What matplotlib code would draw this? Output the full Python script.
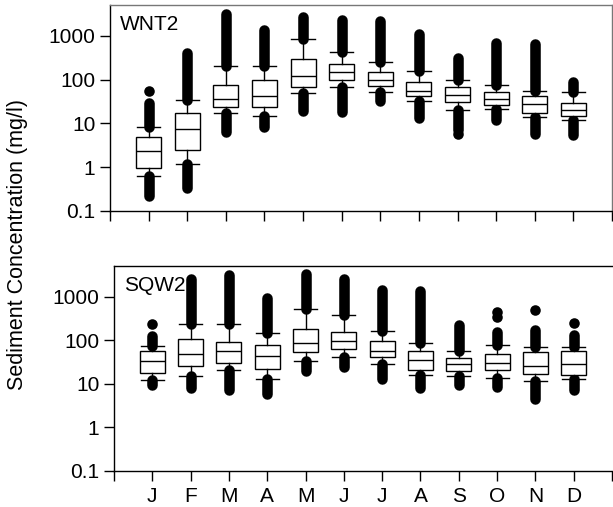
import matplotlib
matplotlib.use('Agg')
import matplotlib.pyplot as plt

plt.rcParams['font.family'] = ['Liberation Sans', 'DejaVu Sans']

months = ['J', 'F', 'M', 'A', 'M', 'J', 'J', 'A', 'S', 'O', 'N', 'D']
ytick_vals = [0.1, 1, 10, 100, 1000]
ytick_labels = ['0.1', '1', '10', '100', '1000']

# WNT2 box statistics (mg/l)
wnt2_q1 = [0.95, 2.5, 24.4, 23.6, 68, 96, 72.5, 43.5, 31.2, 26.2, 17.2, 14.7]
wnt2_med = [2.4, 7.4, 36.5, 43.5, 121, 154, 99.5, 55.7, 44.4, 37.1, 27.7, 20.5]
wnt2_q3 = [4.86, 17.2, 75, 98, 296, 227, 149, 89.5, 68, 52.8, 42.2, 30.1]
wnt2_whislo = [0.63, 1.19, 17.2, 15.2, 51, 70, 53.7, 33.4, 20.2, 21.9, 14.4, 12.1]
wnt2_whishi = [8.2, 34.7, 211, 205, 849, 428, 248, 157, 96, 75, 55.7, 52]
# outlier extents (the dots stack continuously between whisker and these)
wnt2_out_max = [29, 402, 3140, 1386, 2780, 2350, 2150, 1094, 309, 680, 646, 87]
wnt2_out_min = [0.22, 0.33, 6.5, 8.1, 18.9, 17.9, 32, 13.1, 7.0, 12.1, 5.9, 5.6]
# isolated outliers
wnt2_extra_month = [1, 9]
wnt2_extra_val = [56.6, 5.7]

# SQW2 box statistics (mg/l)
sqw2_q1 = [17.7, 25.2, 30, 21.5, 52.8, 61.8, 41.2, 20.4, 20, 20.7, 16.5, 15.7]
sqw2_med = [33.9, 48.2, 55.6, 42.7, 86.3, 97.5, 56.5, 35.7, 28.9, 30, 25.2, 28.5]
sqw2_q3 = [55.6, 107, 92.4, 77.6, 178, 152, 94.4, 55.6, 38.5, 48.2, 53.6, 55.6]
sqw2_whislo = [12.2, 14.9, 20.4, 12.9, 33.3, 41.9, 28.5, 15.7, 15.1, 13.8, 11.4, 12.9]
sqw2_whishi = [72.5, 235, 232, 144, 512, 385, 163, 84.9, 55.6, 76.4, 71, 68.7]
sqw2_out_max = [125, 2575, 3250, 944, 3350, 2575, 1440, 1393, 220, 154, 169, 132]
sqw2_out_min = [9.6, 8.1, 7.1, 5.9, 19.7, 24.3, 13.1, 8.0, 9.5, 8.4, 4.6, 7.1]
sqw2_extra_month = [1, 10, 10, 11, 12]
sqw2_extra_val = [235, 443, 340, 485, 248]


def draw_panel(ax, q1, med, q3, wlo, whi, omax, omin, ex_m, ex_v, name):
    stats = []
    for i in range(len(months)):
        stats.append(dict(q1=q1[i], med=med[i], q3=q3[i],
                          whislo=wlo[i], whishi=whi[i], fliers=[]))
    pos = list(range(1, len(months) + 1))
    ax.bxp(stats, positions=pos, widths=0.65, capwidths=0.6,
           showfliers=False, patch_artist=True,
           boxprops=dict(facecolor='white', edgecolor='black', linewidth=1.0),
           medianprops=dict(color='black', linewidth=1.0),
           whiskerprops=dict(color='black', linewidth=1.0),
           capprops=dict(color='black', linewidth=1.0), zorder=3)
    # outlier stacks drawn behind boxes
    for i, p in enumerate(pos):
        ax.plot([p, p], [whi[i], omax[i]], color='black', lw=7.6,
                solid_capstyle='round', zorder=2)
        ax.plot([p, p], [omin[i], wlo[i]], color='black', lw=7.6,
                solid_capstyle='round', zorder=2)
    ax.plot(ex_m, ex_v, 'o', color='black', ms=7.6, mew=0, zorder=2)

    ax.set_yscale('log')
    ax.set_ylim(0.1, 5100)
    ax.set_xlim(0, 13)
    ax.set_yticks(ytick_vals)
    ax.set_yticklabels(ytick_labels)
    ax.minorticks_off()
    ax.set_xticks(range(0, 14))
    ax.tick_params(axis='both', direction='out', length=7.5, width=1.0,
                   labelsize=15, colors='black')
    ax.tick_params(axis='y', pad=3)
    ax.tick_params(axis='x', pad=4)
    ax.text(0.02, 0.95, name, transform=ax.transAxes, fontsize=15,
            va='top', ha='left')


fig = plt.figure(figsize=(6.13, 5.07), dpi=100)
ax1 = fig.add_axes([110 / 613, 1 - 211 / 507, 502 / 613, 206 / 507])
ax2 = fig.add_axes([114 / 613, 1 - 471 / 507, 498 / 613, 205 / 507])

draw_panel(ax1, wnt2_q1, wnt2_med, wnt2_q3, wnt2_whislo, wnt2_whishi,
           wnt2_out_max, wnt2_out_min, wnt2_extra_month, wnt2_extra_val, 'WNT2')
draw_panel(ax2, sqw2_q1, sqw2_med, sqw2_q3, sqw2_whislo, sqw2_whishi,
           sqw2_out_max, sqw2_out_min, sqw2_extra_month, sqw2_extra_val, 'SQW2')

ax1.set_xticklabels([''] * 14)
ax2.set_xticklabels([''] + months + [''])

for sp in ['top', 'right']:
    ax1.spines[sp].set_color('#777777')
ax2.spines['right'].set_visible(False)
for ax in (ax1, ax2):
    for sp in ax.spines.values():
        sp.set_linewidth(1.0)

fig.text(18 / 613, 1 - 245 / 507, 'Sediment Concentration (mg/l)',
         rotation=90, ha='center', va='center', fontsize=15.5)

plt.savefig('out.png', dpi=100)
